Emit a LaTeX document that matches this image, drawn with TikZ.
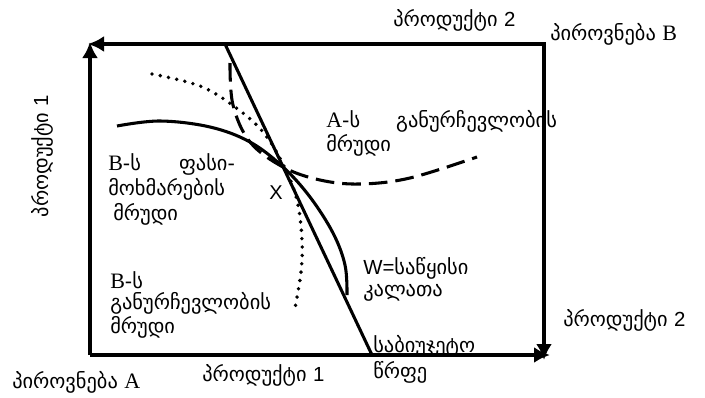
\documentclass[tikz,border=0pt]{standalone}
\usepackage{fontspec}
\setmainfont{DejaVu Sans}
\newfontfamily\serifl{Liberation Serif}
\newfontfamily\arialf{Liberation Sans}
\usetikzlibrary{arrows.meta}
\newcommand{\Ltr}[1]{{\serifl\fontsize{16.5pt}{16pt}\selectfont #1}}
\begin{document}
\begin{tikzpicture}[x=0.75pt,y=-0.75pt,
  frame/.style={line width=2.6pt,-{Latex[length=12pt,width=12pt]}},
  curve/.style={line width=2.3pt},
  dashcurve/.style={line width=2.3pt,dash pattern=on 14pt off 6pt},
  dotcurve/.style={line width=2.9pt,line cap=round,dash pattern=on 0pt off 6.3pt},
  lbl/.style={font=\fontsize{15.3pt}{18pt}\selectfont,inner sep=0pt,anchor=west}]
\useasboundingbox (0,0) rectangle (705,397);
% corners
\coordinate (TL) at (90,44);
\coordinate (TR) at (544,44);
\coordinate (BL) at (90,355);
\coordinate (BR) at (544,355);
\coordinate (tlarrow) at (88,44);
\coordinate (tlup) at (90,42);
\coordinate (brright) at (550,355);
\coordinate (brdown) at (544,360);
% frame
\draw[frame] (TR) -- (tlarrow);
\draw[frame] (BL) -- (tlup);
\draw[frame] (BL) -- (brright);
\draw[frame,line cap=rect] (TR) -- (brdown);
% budget line
\coordinate (bt) at (225,44);
\coordinate (bb) at (372,355);
\draw[line width=2.3pt] (bt) -- (bb);
% B price-consumption curve (solid)
\draw[curve] plot[smooth,tension=0.6] coordinates {(117,126) (160,121) (210,127) (250,142) (283,167) (310,197) (333,233) (345,265) (347,295)};
% A indifference curve (dashed)
\draw[dashcurve] plot[smooth,tension=0.6] coordinates {(230,63) (233,105) (250,142) (283,167) (320,180) (360,184) (410,178) (477,157)};
% B indifference curve (dotted)
\draw[dotcurve] plot[smooth,tension=0.6] coordinates {(152,74) (200,86) (235,107) (263,132) (284,166) (297,200) (302,240) (301,272) (295,308)};
% labels
\node[lbl] (p2top) at (393,20) {პროდუქტი {\arialf 2}};
\node[lbl] (pB) at (550,34) {პიროვნება \Ltr{B}};
\node[lbl,rotate=90,anchor=center] (p1left) at (42,156) {პროდუქტი {\arialf 1}};
\node[lbl] (Aline1) at (326,121) {\hbox to 173pt{\Ltr{A}-ს\hfill განურჩევლობის}};
\node[lbl] (Aline2) at (326,145) {მრუდი};
\node[lbl] (Bpc1) at (108,164) {\hbox to 95pt{\Ltr{B}-ს\hfill ფასი-}};
\node[lbl] (Bpc2) at (108,189) {მოხმარების};
\node[lbl] (Bpc3) at (113,214) {მრუდი};
\node[lbl,font=\fontsize{15pt}{16pt}\selectfont\arialf] (X) at (269,193) {X};
\node[lbl] (Bi1) at (110,280) {\Ltr{B}-ს};
\node[lbl] (Bi2) at (110,303) {განურჩევლობის};
\node[lbl] (Bi3) at (110,327) {მრუდი};
\node[lbl] (W1) at (363,268) {{\arialf W=}საწყისი};
\node[lbl] (W2) at (363,293) {კალათა};
\node[lbl] (bl1) at (373,346) {საბიუჯეტო};
\node[lbl] (bl2) at (373,372) {წრფე};
\node[lbl] (p2right) at (563,320) {პროდუქტი {\arialf 2}};
\node[lbl] (pA) at (12,382) {პიროვნება \Ltr{A}};
\node[lbl] (p1bot) at (202,375) {პროდუქტი {\arialf 1}};
\end{tikzpicture}
\end{document}
